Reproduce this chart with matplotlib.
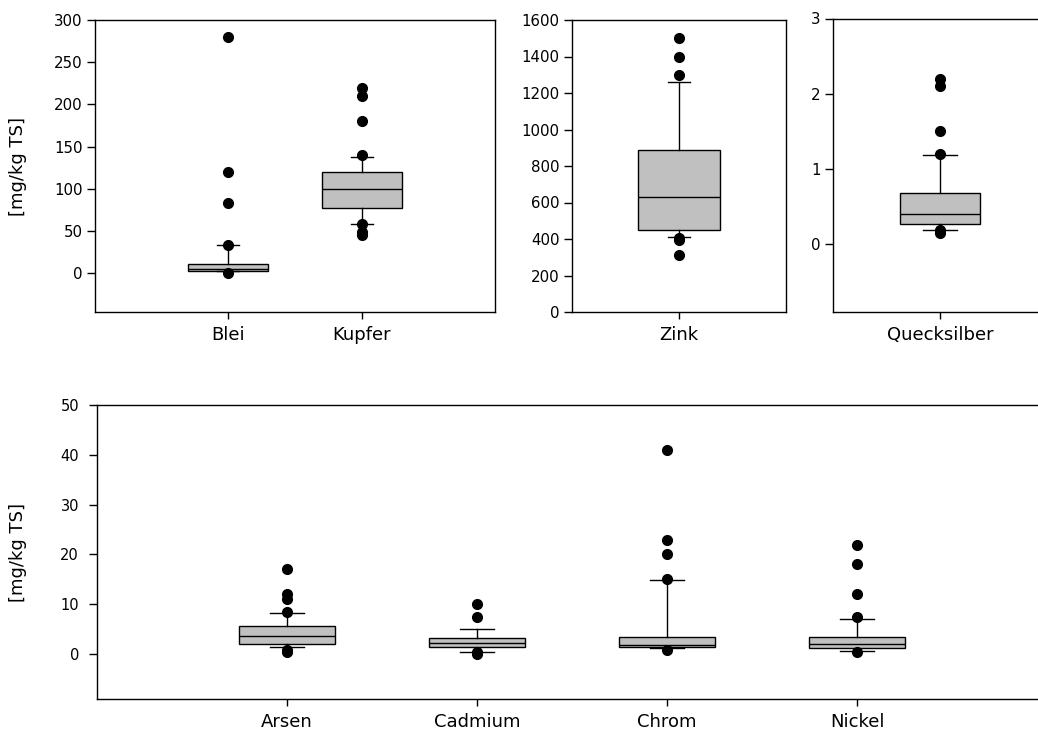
import matplotlib
matplotlib.use("Agg")
import matplotlib.pyplot as plt

plt.rcParams['font.family'] = ['DejaVu Sans']

# Box statistics per element (median, quartiles, 10th/90th percentile whiskers, outliers)
blei = dict(label="Blei", med=5.5, q1=2.0, q3=10.3, whislo=2.0, whishi=33.0,
            fliers=[280, 120, 83, 33, 0.5])
kupfer = dict(label="Kupfer", med=100, q1=77, q3=120, whislo=58.5, whishi=137.5,
              fliers=[220, 210, 180, 140, 58, 49, 45])
zink = dict(label="Zink", med=628, q1=451, q3=886, whislo=411, whishi=1262,
            fliers=[1500, 1400, 1300, 405, 395, 310])
quecksilber = dict(label="Quecksilber", med=0.395, q1=0.26, q3=0.68, whislo=0.18, whishi=1.18,
                   fliers=[2.2, 2.1, 1.5, 1.2, 0.18, 0.14])
arsen = dict(label="Arsen", med=3.7, q1=2.1, q3=5.6, whislo=1.5, whishi=8.3,
             fliers=[17, 12, 11, 8.5, 0.9, 0.5])
cadmium = dict(label="Cadmium", med=2.3, q1=1.5, q3=3.2, whislo=0.46, whishi=5.0,
               fliers=[10, 7.4, 0.4, 0.1])
chrom = dict(label="Chrom", med=1.9, q1=1.5, q3=3.5, whislo=1.3, whishi=14.8,
             fliers=[41, 23, 20, 15, 0.9])
nickel = dict(label="Nickel", med=2.1, q1=1.2, q3=3.5, whislo=0.7, whishi=7.1,
              fliers=[22, 18, 12, 7.4, 0.5])

ylabel = "[mg/kg TS]"

W, H = 1038, 731
fig = plt.figure(figsize=(W / 100, H / 100), dpi=100)


def px_axes(x0, y0, x1, y1):
    return fig.add_axes([x0 / W, 1 - y1 / H, (x1 - x0) / W, (y1 - y0) / H])


BOX_FILL = "#c0c0c0"


def draw(ax, stats, width, capw, xlim, ylim, yticks, tick_fs, tick_pad, label_fs):
    pos = list(range(1, len(stats) + 1))
    ax.bxp(stats, positions=pos, widths=width, capwidths=capw, patch_artist=True,
           boxprops=dict(facecolor=BOX_FILL, edgecolor="black", linewidth=1.0),
           medianprops=dict(color="black", linewidth=1.0),
           whiskerprops=dict(color="black", linewidth=1.0),
           capprops=dict(color="black", linewidth=1.0),
           flierprops=dict(marker="o", markerfacecolor="black", markeredgecolor="black",
                           markersize=7, linestyle="none"))
    ax.set_xlim(*xlim)
    ax.set_ylim(*ylim)
    ax.set_yticks(yticks)
    ax.set_xticks(pos)
    ax.set_xticklabels([s["label"] for s in stats], fontsize=label_fs)
    ax.tick_params(axis="y", direction="out", length=6, width=1, labelsize=tick_fs,
                   pad=tick_pad)
    ax.tick_params(axis="x", direction="out", length=5, width=1, pad=5)
    for sp in ax.spines.values():
        sp.set_linewidth(1.0)
        sp.set_color("black")


ax1 = px_axes(95, 20, 495, 312)
draw(ax1, [blei, kupfer], 0.6, 0.165, (0, 3), (-46, 300), range(0, 301, 50), 10.8, 3, 13)
ax1.set_ylabel(ylabel, fontsize=13)
ax1.yaxis.set_label_coords((27 - 95) / 400, 0.5)

ax2 = px_axes(572, 20, 786, 312)
draw(ax2, [zink], 0.76, 0.2, (0, 2), (0, 1600), range(0, 1601, 200), 10.8, 3, 13)

ax3 = px_axes(833, 18.5, 1047, 312)
draw(ax3, [quecksilber], 0.75, 0.32, (0, 2), (-0.905, 3), range(0, 4), 10.8, 3, 13)

ax4 = px_axes(97, 405, 1047, 699)
draw(ax4, [arsen, cadmium, chrom, nickel], 0.505, 0.175, (0, 5), (-9, 50),
     range(0, 51, 10), 10.5, 7, 13)
ax4.set_ylabel(ylabel, fontsize=13)
ax4.yaxis.set_label_coords((27 - 97) / 950, 0.5)

fig.savefig("out.png", dpi=100)
